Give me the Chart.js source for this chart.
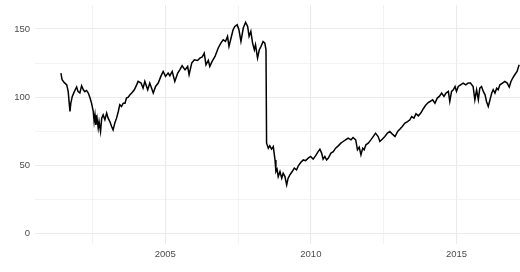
<!DOCTYPE html>
<html>
<head>
<meta charset="utf-8">
<script src="https://cdn.jsdelivr.net/npm/chart.js@4/dist/chart.umd.min.js"></script>
<style>
  html, body { margin: 0; padding: 0; background: #fff; }
  #chart { display: block; }
</style>
</head>
<body>
<canvas id="chart" width="520" height="272"></canvas>
<script>
// ================= DATA =================
const years = [
  2001.42, 2001.46, 2001.53, 2001.62, 2001.67, 2001.73, 2001.76, 2001.81, 2001.88, 2001.96,
  2002.01, 2002.07, 2002.13, 2002.19, 2002.24, 2002.30, 2002.36, 2002.42, 2002.47, 2002.53,
  2002.56, 2002.59, 2002.62, 2002.66, 2002.70, 2002.73, 2002.78, 2002.82, 2002.87, 2002.93,
  2002.99, 2003.04, 2003.10, 2003.16, 2003.21, 2003.27, 2003.33, 2003.39, 2003.44, 2003.50,
  2003.56, 2003.62, 2003.67, 2003.73, 2003.79, 2003.85, 2003.94, 2004.02, 2004.07, 2004.17,
  2004.24, 2004.30, 2004.40, 2004.47, 2004.59, 2004.67, 2004.76, 2004.85, 2004.93, 2005.01,
  2005.10, 2005.16, 2005.24, 2005.33, 2005.43, 2005.50, 2005.58, 2005.68, 2005.77, 2005.82,
  2005.91, 2006.00, 2006.11, 2006.19, 2006.27, 2006.34, 2006.40, 2006.48, 2006.53, 2006.61,
  2006.71, 2006.82, 2006.91, 2006.99, 2007.07, 2007.14, 2007.19, 2007.26, 2007.33, 2007.39,
  2007.47, 2007.53, 2007.60, 2007.68, 2007.76, 2007.83, 2007.88, 2007.94, 2008.00, 2008.06,
  2008.10, 2008.17, 2008.23, 2008.29, 2008.36, 2008.42, 2008.46, 2008.48, 2008.54, 2008.59,
  2008.65, 2008.71, 2008.77, 2008.80, 2008.84, 2008.88, 2008.94, 2009.00, 2009.05, 2009.11,
  2009.17, 2009.22, 2009.28, 2009.36, 2009.43, 2009.51, 2009.57, 2009.65, 2009.74, 2009.82,
  2009.91, 2009.99, 2010.08, 2010.16, 2010.25, 2010.31, 2010.37, 2010.42, 2010.48, 2010.54,
  2010.60, 2010.69, 2010.77, 2010.85, 2010.94, 2011.03, 2011.11, 2011.19, 2011.28, 2011.38,
  2011.45, 2011.54, 2011.60, 2011.66, 2011.72, 2011.78, 2011.83, 2011.89, 2011.97, 2012.06,
  2012.14, 2012.22, 2012.31, 2012.37, 2012.45, 2012.54, 2012.63, 2012.71, 2012.79, 2012.89,
  2012.98, 2013.06, 2013.14, 2013.23, 2013.32, 2013.40, 2013.46, 2013.54, 2013.61, 2013.69,
  2013.78, 2013.86, 2013.94, 2014.03, 2014.09, 2014.18, 2014.26, 2014.34, 2014.41, 2014.49,
  2014.57, 2014.64, 2014.72, 2014.77, 2014.83, 2014.89, 2014.95, 2015.00, 2015.06, 2015.14,
  2015.23, 2015.32, 2015.40, 2015.48, 2015.57, 2015.63, 2015.69, 2015.75, 2015.80, 2015.86,
  2015.92, 2015.98, 2016.03, 2016.09, 2016.15, 2016.21, 2016.26, 2016.32, 2016.38, 2016.43,
  2016.49, 2016.58, 2016.66, 2016.74, 2016.81, 2016.87, 2016.93, 2017.00, 2017.08, 2017.15
];

const values = [
  117.6, 112.7, 110.8, 109.0, 104.0, 89.5, 95.6, 100.5, 104.0, 107.4,
  104.0, 103.0, 108.3, 105.4, 104.0, 104.9, 103.0, 99.3, 95.6, 89.5,
  82.1, 87.0, 79.7, 84.6, 77.3, 82.1, 74.8, 84.6, 87.0, 83.4,
  88.3, 84.6, 82.1, 78.5, 76.0, 81.0, 84.6, 89.5, 94.4, 93.2,
  95.6, 95.6, 99.3, 100.0, 101.7, 103.0, 105.4, 109.0, 111.5, 110.3,
  106.6, 111.5, 105.4, 110.3, 103.0, 107.8, 110.3, 115.2, 118.8, 115.2,
  117.6, 115.7, 118.8, 111.5, 117.6, 120.0, 123.0, 120.0, 122.5, 116.4,
  125.0, 127.4, 126.9, 128.6, 129.4, 132.3, 123.7, 127.0, 122.5, 126.2,
  129.8, 136.0, 139.6, 142.0, 140.8, 144.5, 137.2, 143.3, 149.4, 151.8,
  153.0, 149.4, 140.8, 150.6, 154.8, 151.8, 144.5, 148.2, 139.6, 134.7,
  138.4, 128.6, 134.7, 137.2, 140.8, 139.6, 134.7, 66.3, 62.6, 64.3,
  61.9, 63.8, 54.0, 45.5, 47.2, 41.8, 45.5, 40.6, 44.3, 41.8,
  35.7, 40.6, 43.0, 45.5, 48.0, 46.7, 49.7, 52.1, 54.0, 53.5,
  55.3, 56.5, 54.6, 57.0, 60.1, 61.9, 59.0, 54.6, 56.5, 54.0,
  55.3, 59.0, 60.1, 62.6, 64.3, 66.3, 67.5, 68.7, 70.0, 68.7,
  70.4, 68.7, 61.4, 63.4, 57.7, 62.6, 61.4, 65.1, 66.3, 68.7,
  71.1, 73.6, 71.1, 67.5, 69.2, 71.1, 73.6, 74.8, 73.1, 71.1,
  74.8, 76.6, 78.5, 81.0, 82.1, 83.4, 85.8, 84.6, 87.8, 86.3,
  88.5, 91.5, 94.0, 96.0, 96.8, 98.1, 95.6, 99.3, 100.5, 103.0,
  100.5, 103.0, 104.2, 96.8, 104.2, 105.4, 107.8, 104.2, 107.8, 109.0,
  110.3, 109.0, 110.3, 110.3, 107.8, 98.1, 105.4, 98.1, 106.6, 107.8,
  104.2, 101.7, 96.8, 93.2, 98.1, 103.0, 105.4, 103.0, 106.6, 105.4,
  109.0, 110.3, 111.5, 110.3, 107.4, 111.5, 114.0, 116.4, 118.8, 123.7
];

const xTicks = [2002.5, 2005, 2007.5, 2010, 2012.5, 2015];
const xLabels = [2005, 2010, 2015];
const yTicks = [0, 25, 50, 75, 100, 125, 150];
const yLabels = [0, 50, 100, 150];

// ================= CHART =================
const gridColor = "#EBEBEB";
const textColor = "#4D4D4D";
const tickFont = { family: "'Liberation Sans', Arial, sans-serif", size: 9.5 };

const points = years.map((x, i) => ({ x: x, y: values[i] }));

new Chart(document.getElementById("chart"), {
  type: "line",
  data: {
    datasets: [
      {
        data: points,
        borderColor: "#000000",
        borderWidth: 1.5,
        pointRadius: 0,
        tension: 0,
        fill: false,
      },
    ],
  },
  options: {
    responsive: false,
    animation: false,
    layout: { padding: { top: 5, right: 0, left: 0, bottom: 0 } },
    plugins: { legend: { display: false }, tooltip: { enabled: false } },
    scales: {
      x: {
        type: "linear",
        min: 2000.53,
        max: 2017.18,
        afterBuildTicks: (scale) => {
          scale.ticks = xTicks.map((v) => ({ value: v }));
        },
        afterFit: (scale) => {
          scale.height = 28;
          scale.paddingLeft = 0;
          scale.paddingRight = 0;
        },
        border: { display: false },
        grid: {
          color: gridColor,
          drawTicks: false,
          lineWidth: (ctx) => (xLabels.includes(ctx.tick && ctx.tick.value) ? 1.1 : 0.6),
        },
        ticks: {
          autoSkip: false,
          maxRotation: 0,
          padding: 5,
          color: textColor,
          font: tickFont,
          callback: (v) => (xLabels.includes(v) ? String(v) : ""),
        },
      },
      y: {
        min: -7.6,
        max: 167.5,
        afterBuildTicks: (scale) => {
          scale.ticks = yTicks.map((v) => ({ value: v }));
        },
        afterFit: (scale) => {
          scale.width = 35;
          scale.paddingTop = 0;
          scale.paddingBottom = 0;
        },
        border: { display: false },
        grid: {
          color: gridColor,
          drawTicks: false,
          lineWidth: (ctx) => (yLabels.includes(ctx.tick && ctx.tick.value) ? 1.1 : 0.6),
        },
        ticks: {
          autoSkip: false,
          padding: 5,
          color: textColor,
          font: tickFont,
          callback: (v) => (yLabels.includes(v) ? String(v) : ""),
        },
      },
    },
  },
});
</script>
</body>
</html>
